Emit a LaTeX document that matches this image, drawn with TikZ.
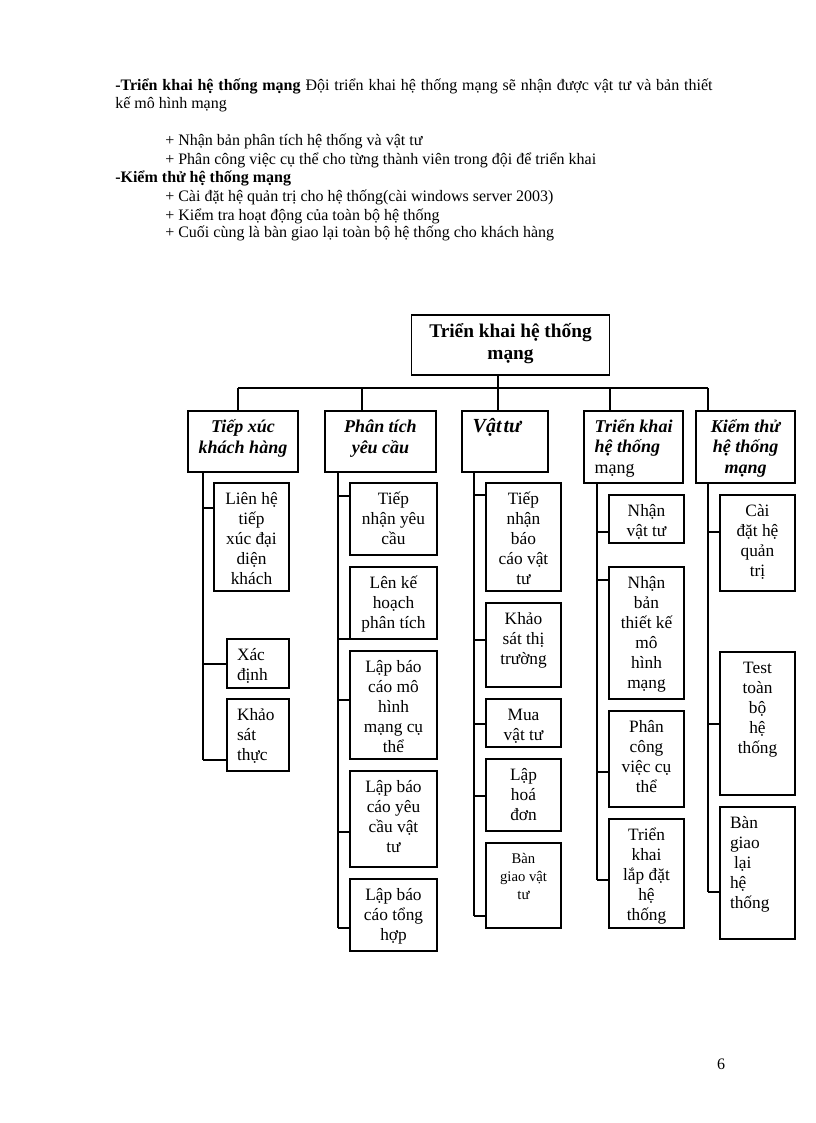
\documentclass[tikz,border=0pt]{standalone}
\usepackage{fontspec}
\setmainfont{Liberation Serif}
% box content: width px, height px, first baseline px, format, text
\newcommand\bx[5]{\parbox[c][\dimexpr #2pt*3/4\relax][t]{\dimexpr #1pt*3/4\relax}{#4\rule{0pt}{\dimexpr #3pt*3/4\relax}#5}}
\newcommand\ctxt{\centering\fontsize{13}{15}\selectfont}
\newcommand\ltxt{\raggedright\leftskip=7.5pt\fontsize{13}{15}\selectfont}
\newcommand\htxt{\centering\fontsize{13.5}{16}\selectfont\bfseries\itshape}
\newcommand\cbox[5]{\node[box] (#1) at (#2) {\bx{#3}{#4}{21}{\ctxt}{#5}};}
\newcommand\lbox[5]{\node[box] (#1) at (#2) {\bx{#3}{#4}{21}{\ltxt}{#5}};}
\newcommand\conn[3]{\draw[ln] (#1.west |- 0,#3) -- (#2 |- 0,#3);}
\begin{document}
\begin{tikzpicture}[x=0.75pt,y=-0.75pt,
  box/.style={draw, line width=0.8pt, inner sep=0pt, outer sep=0pt},
  ln/.style={line width=0.8pt},
  txt/.style={inner sep=0pt, anchor=base west, font=\fontsize{12}{14}\selectfont}]
\useasboundingbox[fill=white] (0,0) rectangle (816,1123);

% ---- text above the chart
\node[txt] (l1) at (115,91) {\makebox[448pt][s]{\textbf{-Triển khai hệ thống mạng} Đội triển khai hệ thống mạng sẽ nhận được vật tư và bản thiết}};
\node[txt] (l2) at (115,109) {kế mô hình mạng};
\node[txt] (l3) at (165,146) {+ Nhận bản phân tích hệ thống và vật tư};
\node[txt] (l4) at (165,165) {+ Phân công việc cụ thể cho từng thành viên trong đội để triển khai};
\node[txt] (l5) at (115,183) {\textbf{-Kiểm thử hệ thống mạng}};
\node[txt] (l6) at (165,202) {+ Cài đặt hệ quản trị cho hệ thống(cài windows server 2003)};
\node[txt] (l7) at (165,220) {+ Kiểm tra hoạt động của toàn bộ hệ thống};
\node[txt] (l8) at (165,238) {+ Cuối cùng là bàn giao lại toàn bộ hệ thống cho khách hàng};
\node[inner sep=0pt, anchor=base, font=\fontsize{12}{14}\selectfont] (pg) at (721,1069) {6};

% ---- root
\node[box] (root) at (510.5,345) {\bx{198}{60}{22}{\centering\fontsize{14.5}{16.5}\selectfont\bfseries}{Triển khai hệ thống\\mạng}};

% ---- headers
\node[box] (h1) at (243,441.5) {\bx{110}{61}{21}{\htxt}{Tiếp xúc\\khách hàng}};
\node[box] (h2) at (380.5,441.5) {\bx{111}{61}{21}{\htxt}{Phân tích\\yêu cầu}};
\node[box] (h3) at (505,441.5) {\bx{86}{61}{21}{\raggedright\leftskip=8pt\fontsize{15}{17}\selectfont\bfseries\itshape}{Vật\hspace{1.5pt}tư}};
\node[box] (h4) at (633.5,447) {\bx{99}{72}{21}{\raggedright\leftskip=8pt\fontsize{13.5}{15.5}\selectfont}{\textbf{\textit{Triển khai}}\\\textbf{\textit{hệ thống}}\\mạng}};
\node[box] (h5) at (745.5,447) {\bx{99}{72}{21}{\centering\fontsize{13.5}{15.5}\selectfont\bfseries\itshape}{Kiểm thử\\hệ thống\\mạng}};

% ---- level-1 connectors
\coordinate (d1) at (238,388);
\coordinate (d2) at (362,388);
\coordinate (d3) at (498,388);
\coordinate (d4) at (610,388);
\coordinate (d5) at (708,388);
\draw[ln] (root.south -| d3) -- (d3);
\draw[ln] (d1) -- (d5);
\draw[ln] (d1) -- (d1 |- h1.north);
\draw[ln] (d2) -- (d2 |- h2.north);
\draw[ln] (d3) -- (d3 |- h3.north);
\draw[ln] (d4) -- (d4 |- h4.north);
\draw[ln] (d5) -- (d5 |- h5.north);

% ---- column 1
\cbox{c11}{251.5,537}{75}{108}{Liên hệ\\tiếp\\xúc đại\\diện\\khách}
\lbox{c12}{258,663.5}{62}{49}{Xác\\định}
\lbox{c13}{258,735}{62}{72}{Khảo\\sát\\thực}
% ---- column 2
\cbox{c21}{393.5,519}{87}{72}{Tiếp\\nhận yêu\\cầu}
\cbox{c22}{393.5,603}{87}{72}{Lên kế\\hoạch\\phân tích}
\cbox{c23}{393.5,705}{87}{108}{Lập báo\\cáo mô\\hình\\mạng cụ\\thể}
\cbox{c24}{393.5,819}{87}{96}{Lập báo\\cáo yêu\\cầu vật\\tư}
\cbox{c25}{393.5,915}{87}{72}{Lập báo\\cáo tổng\\hợp}
% ---- column 3
\cbox{c31}{523.5,537}{75}{108}{Tiếp\\nhận\\báo\\cáo vật\\tư}
\cbox{c32}{523.5,645}{75}{84}{Khảo\\sát thị\\trường}
\cbox{c33}{523.5,723}{75}{48}{Mua\\vật tư}
\cbox{c34}{523.5,795}{75}{72}{Lập\\hoá\\đơn}
\node[box] (c35) at (523.5,885.5) {\bx{75}{85}{20}{\centering\fontsize{11}{13.75}\selectfont}{Bàn\\giao vật\\tư}};
% ---- column 4
\cbox{c41}{646.5,519}{75}{48}{Nhận\\vật tư}
\cbox{c42}{646.5,633}{75}{132}{Nhận\\bản\\thiết kế\\mô\\hình\\mạng}
\cbox{c43}{646.5,759}{75}{96}{Phân\\công\\việc cụ\\thể}
\cbox{c44}{646.5,873.5}{75}{109}{Triển\\khai\\lắp đặt\\hệ\\thống}
% ---- column 5
\cbox{c51}{757.5,543}{75}{96}{Cài\\đặt hệ\\quản\\trị}
\cbox{c52}{757.5,723.5}{75}{143}{Test\\toàn\\bộ\\hệ\\thống}
\lbox{c53}{757.5,873}{75}{132}{Bàn\\giao\\\hspace*{3pt}lại\\hệ\\thống}

% ---- trunks
\coordinate (t1) at (203,760);
\coordinate (t2) at (338,928);
\coordinate (t3) at (474,916);
\coordinate (t4) at (597,880);
\coordinate (t5) at (708,892);
\draw[ln] (h1.south -| t1) -- (t1);
\draw[ln] (h2.south -| t2) -- (t2);
\draw[ln] (h3.south -| t3) -- (t3);
\draw[ln] (h4.south -| t4) -- (t4);
\draw[ln] (h5.south -| t5) -- (t5);

% ---- branch connectors
\conn{c11}{t1}{508}
\conn{c12}{t1}{664}
\conn{c13}{t1}{760}
\conn{c21}{t2}{496}
\conn{c22}{t2}{639}
\conn{c23}{t2}{700}
\conn{c24}{t2}{832}
\conn{c25}{t2}{928}
\conn{c31}{t3}{495}
\conn{c32}{t3}{640}
\conn{c33}{t3}{724}
\conn{c34}{t3}{796}
\conn{c35}{t3}{916}
\conn{c41}{t4}{532}
\conn{c42}{t4}{580}
\conn{c43}{t4}{772}
\conn{c44}{t4}{880}
\conn{c51}{t5}{532}
\conn{c52}{t5}{724}
\conn{c53}{t5}{892}
\end{tikzpicture}
\end{document}
